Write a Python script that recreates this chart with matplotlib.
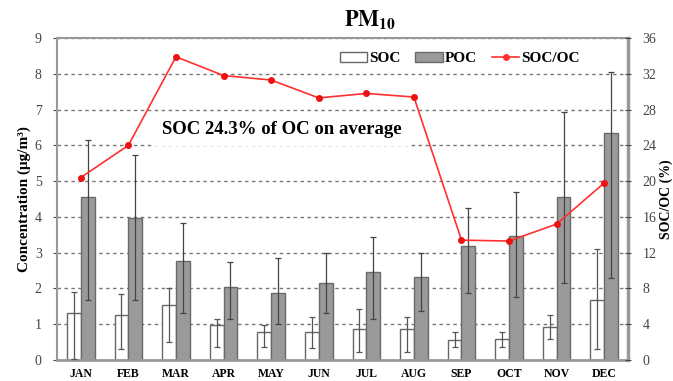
import matplotlib
matplotlib.use("Agg")
import matplotlib.pyplot as plt
import numpy as np
from matplotlib.patches import Patch
from matplotlib.lines import Line2D

plt.rcParams["font.family"] = ["Liberation Serif", "DejaVu Serif"]
plt.rcParams["mathtext.fontset"] = "stix"

months = ["JAN", "FEB", "MAR", "APR", "MAY", "JUN", "JUL", "AUG", "SEP", "OCT", "NOV", "DEC"]

# SOC / POC concentrations (ug/m3) and error bar ends
soc = [1.32, 1.26, 1.54, 0.98, 0.77, 0.77, 0.88, 0.86, 0.57, 0.58, 0.93, 1.69]
soc_hi = [1.91, 1.84, 2.00, 1.16, 0.98, 1.21, 1.42, 1.19, 0.79, 0.79, 1.26, 3.09]
soc_lo = [0.02, 0.30, 0.51, 0.35, 0.37, 0.33, 0.23, 0.23, 0.35, 0.37, 0.60, 0.30]

poc = [4.56, 3.98, 2.77, 2.05, 1.86, 2.15, 2.47, 2.31, 3.18, 3.47, 4.56, 6.35]
poc_hi = [6.15, 5.72, 3.84, 2.75, 2.84, 2.98, 3.44, 2.98, 4.24, 4.70, 6.94, 8.05]
poc_lo = [1.68, 1.68, 1.30, 1.15, 1.02, 1.32, 1.16, 1.37, 1.86, 1.75, 2.16, 2.28]

# SOC/OC ratio (%)
ratio = [20.4, 24.0, 33.9, 31.8, 31.3, 29.3, 29.8, 29.4, 13.4, 13.3, 15.2, 19.8]

x = np.arange(len(months))
w = 0.29

fig = plt.figure(figsize=(6.73, 3.81), dpi=100)
ax = fig.add_axes([0.0847, 0.0551, 0.8485, 0.8452])

ax.yaxis.grid(True, linestyle=(0, (2.5, 2.5)), color="#777777", linewidth=1.0, zorder=0)
ax.set_axisbelow(True)

soc_err = [np.array(soc) - np.array(soc_lo), np.array(soc_hi) - np.array(soc)]
poc_err = [np.array(poc) - np.array(poc_lo), np.array(poc_hi) - np.array(poc)]

ax.bar(x - w / 2, soc, w, color="white", edgecolor="#666666", linewidth=1.0, zorder=2)
ax.bar(x + w / 2, poc, w, color="#9a9a9a", edgecolor="#6a6a6a", linewidth=1.0, zorder=2)
ax.errorbar(x - w / 2, soc, yerr=soc_err, fmt="none", ecolor="#555555",
            elinewidth=0.9, capsize=2, capthick=0.9, zorder=3)
ax.errorbar(x + w / 2, poc, yerr=poc_err, fmt="none", ecolor="#444444",
            elinewidth=0.9, capsize=2, capthick=0.9, zorder=3)

ax.set_xlim(-0.5, len(months) - 0.5)
ax.set_ylim(0, 9)
ax.set_yticks(range(0, 10))
ax.set_xticks(x)
ax.set_xticklabels(months, fontweight="bold", fontsize=8.5)
ax.tick_params(axis="x", length=0, pad=6)
ax.tick_params(axis="y", labelsize=10, colors="#444444", length=3, direction="out", pad=8)
ax.set_ylabel("Concentration (μg/m³)", fontweight="bold", fontsize=11, labelpad=3)
for s in ax.spines.values():
    s.set_color("#999999")
    s.set_linewidth(1.5)
ax.spines["right"].set_linewidth(2.5)
ax.spines["bottom"].set_linewidth(2.0)

ax.text(1.7, 6.45, "SOC 24.3% of OC on average", fontsize=13.5,
        fontweight="bold", va="center", ha="left", zorder=4,
        bbox=dict(boxstyle="square,pad=0.45", facecolor="white", edgecolor="none"))

ax2 = ax.twinx()
ax2.plot(x, ratio, color="#ff3030", linewidth=1.2, marker="o", markersize=4,
         markerfacecolor="#ee1111", markeredgecolor="#ee1111", zorder=5)
ax2.set_ylim(0, 36)
ax2.set_yticks(range(0, 37, 4))
ax2.tick_params(axis="y", labelsize=10, colors="#444444", length=5, direction="inout", pad=8)
ax2.set_ylabel("SOC/OC (%)", fontweight="bold", fontsize=10, labelpad=2)
for s in ax2.spines.values():
    s.set_visible(False)

handles = [
    Patch(facecolor="white", edgecolor="#666666", label="SOC"),
    Patch(facecolor="#9a9a9a", edgecolor="#6a6a6a", label="POC"),
    Line2D([0], [0], color="#ff3030", marker="o", markersize=4, linewidth=1.2, label="SOC/OC"),
]
leg = ax2.legend(handles=handles, ncol=3, loc="center", bbox_to_anchor=(0.705, 0.935),
                 frameon=False, prop={"weight": "bold", "size": 11},
                 handlelength=1.8, handletextpad=0.1, columnspacing=1.0, handleheight=0.55)

ax.text(6.07, 9.2, r"$\mathbf{PM}_{\mathbf{10}}$", fontsize=16, ha="center", va="bottom")

fig.savefig("out.png", dpi=100)
